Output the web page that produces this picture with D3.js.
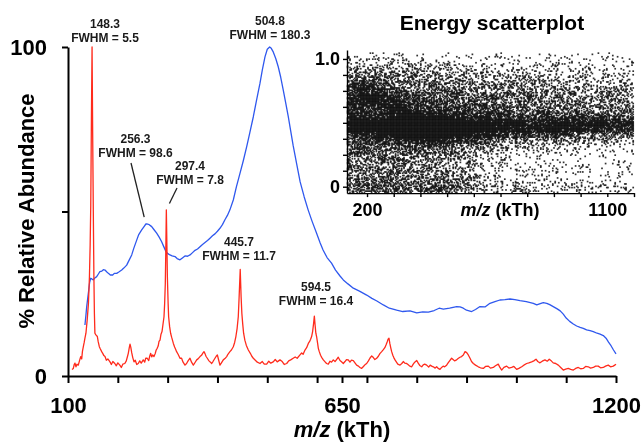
<!DOCTYPE html>
<html>
<head>
<meta charset="utf-8">
<script src="https://cdn.jsdelivr.net/npm/d3@7"></script>
<style>
  html, body { margin: 0; padding: 0; background: #fff; }
  #wrap { position: relative; width: 644px; height: 444px; overflow: hidden; }
  #wrap canvas, #wrap svg { position: absolute; left: 0; top: 0; }
  text { font-family: "Liberation Sans", Arial, Helvetica, sans-serif; font-weight: bold; }
</style>
</head>
<body>
<div id="wrap"></div>
<script>
// ---- Mass spectrum: [m/z (kTh), % relative abundance] ----
const spectrumRed = [
  [108,2.0],[110.7,2.3],[112.5,3.5],[114,3.9],[116,2.8],[118,3.6],[120.7,3.3],[123,4.6],[125.5,5.9],[127.5,5.2],
  [129,7.5],[130.8,8.9],[132.5,10.2],[134,11.5],[136,13],[138.5,17],[141,22],[143,30],[144.5,40],[145.7,52],
  [147,78],[148.3,100],[149.5,74],[150.8,50],[152,30],[153,19],[154,13],[156,12.5],[158.9,12],[160.5,10.5],
  [162.9,8.9],[165,8.2],[167.6,7.4],[170,6.8],[172,6.2],[174.3,5.9],[177,4.8],[180,5.2],[184.3,4.3],[187,3.5],
  [190,4.4],[194,3.8],[197,3.1],[200,4.0],[204,3.3],[207,2.6],[210,3.6],[214,3.8],[217,4.6],[219.5,6.0],
  [221,6.9],[223,8.6],[224.5,9.7],[226,8.8],[228,7],[230,5.6],[232.5,4.3],[235,4.8],[238,3.5],[241,3.8],
  [244,4.6],[247,3.9],[251,4.9],[254,4.2],[256,5.4],[259,5.4],[262,4.7],[264,6.0],[266,6.9],[268,5.8],
  [270,6.4],[272.6,5.9],[275,6.8],[277,7.9],[279,8.4],[281,9.1],[282.7,10.5],[284.7,10.9],[286.5,12.6],[288.7,13.5],
  [290.5,15.5],[292.7,18],[294,22],[295.3,28],[296.3,38],[297.4,50.5],[298.5,40],[299.5,30],[301,22],[302,18],
  [304,15],[306,13],[308,11.8],[311.5,9.9],[314,8.8],[316,8.1],[318,7.4],[321,6.6],[324.8,5.4],[328,5.4],
  [331,4.2],[334.8,3.3],[338,3.8],[341,4.6],[344.9,5.4],[348,4.2],[351.6,3.3],[355,4.1],[358.3,4.9],[361,5.2],
  [365,5.9],[368,6.3],[371,7.0],[373,7.4],[375,6.8],[377,6.0],[379.6,5.4],[383,4.6],[386,4.2],[388.4,3.8],
  [391,4.4],[395,5.4],[397.5,6.0],[399.8,6.4],[402,5.1],[405,3.3],[408,4.0],[411.7,4.9],[415,5.3],[418.5,5.9],
  [421,6.6],[425,7.4],[428,7.9],[431.8,8.9],[434.5,10.2],[437,12],[439.5,14.5],[441.8,18],[443.5,24],[445.7,32.4],
  [447.5,24],[449,19],[450.6,16],[452.5,13],[455,10.9],[458,9.3],[462,7.9],[466,6.9],[469,6.0],[472,5.4],
  [476,4.8],[480,4.2],[485.4,3.8],[490,4.4],[494,3.6],[498.8,3.6],[503,4.5],[507,3.9],[512,4.3],[516,5.0],
  [520,4.3],[525.5,4.9],[530,4.4],[534,3.5],[539,3.8],[543,4.6],[547,4.9],[552,5.4],[556,5.8],[560,5.4],
  [565.7,6.4],[569,7.0],[572,6.6],[575.7,7.9],[579,8.6],[582.4,9.9],[585,10.5],[587,11.2],[589,12],[591,13.5],
  [593,16],[594.5,18.2],[596,15.5],[597.5,13],[599,12],[601,10],[602.5,8.4],[604.4,7.4],[607,6.3],[609.5,5.6],
  [612.5,4.9],[616,4.3],[619,3.8],[622.5,3.6],[626,4.5],[629,4.2],[632.5,4.9],[636,4.4],[639,5.0],[642.5,5.7],
  [646,4.7],[649,4.3],[652.6,3.8],[656,4.4],[659,5.0],[662.6,4.9],[666,4.2],[669,4.8],[672.7,4.7],[676,4.0],
  [679.4,3.3],[683,3.0],[686,2.6],[689.5,2.3],[693,2.9],[696,3.4],[699.5,3.8],[703,4.6],[706,5.4],[709.6,6.1],
  [713,5.6],[716,5.0],[719.6,5.4],[723,6.0],[726,6.8],[729.7,7.4],[733,8.0],[736,8.6],[738.3,9.4],[741,10.5],
  [742.5,11.2],[744.3,11.5],[746,9.9],[748,8.5],[749.7,7.4],[752,6.3],[754,5.6],[756.4,4.9],[759,4.3],[762,3.6],
  [766.4,3.3],[770,3.8],[773,4.4],[776,3.9],[779.8,3.8],[783,3.4],[786,3.0],[789.9,2.8],[793,3.6],[796,4.2],
  [800,4.7],[803,3.9],[806,3.2],[810,2.8],[813,3.4],[816,3.6],[820,3.3],[824,2.7],[827,3.3],[830,3.0],
  [833.3,2.8],[837,2.4],[840,2.8],[843,2.3],[846.7,2.0],[850,2.6],[853,3.0],[856,2.8],[860,3.3],[863,4.0],
  [866,4.6],[870,5.4],[873,5.0],[876,4.6],[880,4.9],[883,5.3],[886.8,5.7],[890,5.9],[893.5,6.4],[897,7.4],
  [900.3,7.1],[903.5,6.4],[907,5.4],[910,4.4],[913.6,3.8],[918,3.3],[923.6,2.8],[928,2.5],[933.6,2.3],[938,2.9],
  [943.7,3.0],[948,2.4],[953.7,2.6],[958,3.1],[963.7,3.6],[967,2.6],[970.5,1.8],[975,2.6],[980.5,3.0],[985,2.4],
  [990.6,2.6],[995,2.9],[1000.6,2.0],[1005,2.3],[1010.7,2.8],[1015,3.3],[1020.7,3.8],[1025,4.0],[1030.7,4.3],[1035,4.6],
  [1039.4,5.1],[1043,4.4],[1047.4,4.0],[1052,4.5],[1057.4,4.9],[1062,4.5],[1066,5.1],[1070,4.6],[1074,4.0],[1079,3.8],
  [1084.2,3.3],[1089,2.6],[1094.2,1.8],[1099,2.1],[1104.2,2.3],[1109,2.0],[1114.3,1.8],[1119,2.3],[1124.3,2.6],[1129,2.2],
  [1134.3,2.3],[1139,2.9],[1144.3,2.8],[1149,2.4],[1154.4,2.6],[1159,3.0],[1164.4,3.0],[1169,2.5],[1174.5,2.6],[1179,3.0],
  [1184.5,3.3],[1189,2.8],[1194.5,3.0],[1200,3.6]
];

const spectrumBlue = [
  [134,15.5],[136,18.5],[137.5,21],[139.5,23.5],[141.5,26],[143.5,28.5],[145.5,29.7],[148,29.5],[150.8,29.2],[154,29.8],
  [157.6,30.2],[161,31],[164,31.7],[168,31.9],[171,32.3],[174.3,32.2],[177.5,31.7],[181,31.2],[185,30.7],[189.7,30.7],
  [193,31.2],[197.7,31.2],[202,31.6],[207.8,32.2],[212,32.8],[217.8,33.7],[222,35],[227.9,36.8],[232,38.8],[237.9,41.3],
  [242,43],[247.9,44.4],[253,45.5],[256.3,46.2],[259.2,46.2],[263,46],[268,45.4],[272,44.6],[278,43.4],[283,42.2],
  [288,40.8],[292,39.4],[296.7,37.8],[300.5,37.2],[304.7,36.8],[309,36.5],[314.8,36.3],[319,35.7],[324.8,35.3],[329,35.8],
  [334.8,36.5],[340,36.4],[344.9,36.8],[350,37.5],[355,38.2],[360,38.6],[365,39.3],[370,40],[375,40.6],[380,41.2],
  [385,41.9],[390,42.6],[395,43.2],[400,44],[405,44.9],[410,46],[415,47.5],[420,48.8],[425,50.5],[431.8,53.5],
  [438,57.5],[445.2,61.6],[452,65.5],[458.7,69.7],[465,74],[472,78.8],[478,83.5],[485.4,89],[490,93],[495.4,97],
  [500,99.3],[504.8,100],[508,99.6],[512,98.5],[517,96.5],[522,94],[527,90.8],[532,87],[537,83],[542,79],
  [547,74.5],[552,70],[559,64.5],[566,59],[574,54.5],[582,50.5],[590,47],[599,43.4],[606,40.5],[612,38.3],
  [620,36],[629,34.3],[637,32.2],[646,30.4],[652.6,29.2],[662,28],[672.7,26.7],[685,25.8],[699.5,24.6],[710,23.6],
  [720,22.8],[733,21.6],[745,20.6],[759.8,20],[772,19.6],[786.5,19.8],[800,19.2],[812,19.5],[823.3,19.4],[835,19.9],
  [845,20.6],[853.4,20.3],[866,20.6],[880.2,21.1],[887,21],[893.5,20.6],[900,20],[910.3,19.6],[918,20.2],[927,21.1],
  [937,21],[947,22.1],[957,22.6],[967,23.1],[977,23.2],[987.2,23.4],[997,23.2],[1007.3,22.9],[1020,22.6],[1034,22.1],
  [1041,21.6],[1048,22],[1054,22.3],[1061,22.1],[1067,21.7],[1074,21.1],[1082,20.4],[1088,19.8],[1094.2,18.8],[1100,17.6],
  [1107,16.6],[1114.3,15.8],[1121,15.2],[1128,14.8],[1134.3,14.5],[1141,14],[1148,13.8],[1154.4,13.5],[1162,13],[1168,12.7],
  [1174.5,12.3],[1180,11.5],[1185,10.3],[1190,9.2],[1195,7.9],[1200,6.7]
];

// Peak annotations: [label line 1, label line 2, anchor m/z, anchor %]
const peakLabels = [
  ["148.3", "FWHM = 5.5", 148.3, 100],
  ["504.8", "FWHM = 180.3", 504.8, 100],
  ["256.3", "FWHM = 98.6", 256.3, 46.2],
  ["297.4", "FWHM = 7.8", 297.4, 50.5],
  ["445.7", "FWHM = 11.7", 445.7, 32.4],
  ["594.5", "FWHM = 16.4", 594.5, 18.2]
];

const mainXTicks = [100,200,300,400,500,600,650,700,800,900,1000,1100,1200];
const mainXLabels = [100, 650, 1200];
const mainYTicks = [0, 50, 100];
const mainYLabels = [0, 100];

// ---- Energy scatterplot: point density on an m/z x energy grid ----
const energyMz = [125,200,275,350,425,500,575,650,725,800,875,950,1025,1100,1200];
const energyLevels = [1.05,1.00,0.95,0.90,0.85,0.80,0.75,0.70,0.65,0.60,0.55,0.50,0.45,0.40,0.35,0.30,0.25,0.20,0.15,0.10,0.05,0.00,-0.05];
const energyDensity = [
  [.02,.03,.03,.03,.03,.03,.02,.02,.02,.02,.02,.02,.02,.02,.02],
  [.08,.10,.10,.10,.08,.08,.07,.06,.05,.05,.05,.05,.05,.05,.05],
  [.15,.20,.18,.18,.15,.14,.12,.10,.09,.08,.08,.07,.07,.07,.06],
  [.25,.30,.28,.26,.22,.20,.18,.15,.14,.13,.12,.11,.10,.10,.09],
  [.35,.40,.38,.35,.30,.28,.25,.22,.20,.18,.17,.16,.15,.14,.12],
  [.45,.55,.50,.45,.38,.35,.32,.28,.26,.24,.22,.20,.19,.18,.16],
  [.55,.80,.60,.50,.45,.42,.38,.34,.32,.30,.28,.25,.23,.22,.20],
  [.65,.90,.80,.55,.50,.45,.42,.40,.38,.36,.33,.30,.28,.26,.24],
  [.65,.85,.85,.70,.55,.50,.48,.45,.42,.40,.38,.35,.33,.30,.28],
  [.60,.60,.70,.85,.65,.60,.55,.52,.48,.45,.42,.40,.38,.36,.33],
  [.75,.70,.75,.90,.85,.80,.70,.65,.60,.55,.55,.55,.55,.50,.45],
  [.85,.90,.90,.95,1.0,1.0,.95,.85,.80,.75,.80,.85,.85,.80,.70],
  [.85,.90,.90,.95,1.0,1.0,.95,.90,.85,.80,.85,.85,.80,.75,.65],
  [.70,.75,.80,.90,1.0,.95,.80,.70,.60,.55,.55,.50,.45,.40,.35],
  [.55,.55,.55,.65,.80,.70,.50,.40,.30,.25,.22,.20,.18,.16,.15],
  [.45,.45,.42,.45,.50,.45,.30,.22,.16,.12,.10,.09,.08,.08,.08],
  [.40,.40,.38,.38,.38,.35,.22,.15,.10,.08,.07,.06,.06,.06,.06],
  [.35,.35,.35,.35,.32,.30,.20,.12,.08,.07,.06,.05,.05,.05,.05],
  [.35,.35,.35,.33,.30,.30,.20,.12,.08,.07,.06,.05,.05,.05,.05],
  [.35,.35,.35,.33,.30,.30,.20,.12,.08,.07,.06,.05,.05,.05,.05],
  [.40,.40,.40,.38,.35,.35,.25,.15,.10,.08,.08,.07,.06,.06,.06],
  [.50,.50,.50,.50,.50,.50,.35,.25,.20,.18,.16,.15,.14,.13,.12],
  [.30,.30,.30,.30,.30,.30,.22,.15,.12,.10,.10,.08,.08,.07,.07]
];
const insetXTicks = [200,300,400,500,600,700,800,900,1000,1100,1200];
const insetXLabels = [200, 1100];
const insetYTicks = [0,0.125,0.25,0.375,0.5,0.625,0.75,0.875,1.0];
const insetYLabels = [0, 1.0];

// ---- Layout ----
const W = 644, H = 444;
const FONT = '"Liberation Sans", Arial, Helvetica, sans-serif';
const RED = "#ff2b1c", BLUE = "#2f58ee";

const wrap = d3.select("#wrap");
const canvas = wrap.append("canvas").attr("width", W).attr("height", H).node();
const svg = wrap.append("svg").attr("width", W).attr("height", H);

// Main spectrum scales
const x = d3.scaleLinear().domain([100, 1200]).range([68, 616]);
const y = d3.scaleLinear().domain([0, 100]).range([376, 47]);

// Inset scales
const ix = d3.scaleLinear().domain([125, 1200]).range([347, 634]);
const iy = d3.scaleLinear().domain([-0.05, 1.07]).range([193.1, 50]);

// ---- Inset stipple (canvas beneath the SVG) ----
// Bilinear lookup into the density grid
function densityAt(mz, e) {
  let c = d3.bisectRight(energyMz, mz) - 1;
  c = Math.max(0, Math.min(energyMz.length - 2, c));
  const tc = Math.max(0, Math.min(1, (mz - energyMz[c]) / (energyMz[c + 1] - energyMz[c])));
  let r = 0;
  while (r < energyLevels.length - 2 && energyLevels[r + 1] > e) r++;
  const tr = Math.max(0, Math.min(1, (energyLevels[r] - e) / (energyLevels[r] - energyLevels[r + 1])));
  const a = energyDensity[r][c], b = energyDensity[r][c + 1];
  const d = energyDensity[r + 1][c], g = energyDensity[r + 1][c + 1];
  const top = a + (b - a) * tc, bot = d + (g - d) * tc;
  return top + (bot - top) * tr;
}
// Hashed threshold map for dithering the density field into dots
function grain(i, j) {
  let h = Math.imul(i, 374761393) + Math.imul(j, 668265263) | 0;
  h = Math.imul(h ^ (h >>> 13), 1274126177);
  h ^= h >>> 16;
  return (h >>> 0) / 4294967296;
}
const cell = 1.2, dot = 1.7, gain = 1.15;
const [px0, px1] = ix.range();
const py0 = iy(1.05), py1 = iy.range()[0];
const gw = Math.floor((px1 - px0) / cell), gh = Math.floor((py1 - py0) / cell);
const ctx = canvas.getContext("2d");
ctx.fillStyle = "rgba(0,0,0,0.8)";
for (let j = 0; j < gh; j++) {
  for (let i = 0; i < gw; i++) {
    const cx = px0 + (i + 0.5) * cell, cy = py0 + (j + 0.5) * cell;
    const d = densityAt(ix.invert(cx), iy.invert(cy)) * gain;
    if (grain(i + 1, j + 1) < d) ctx.fillRect(cx - dot / 2, cy - dot / 2, dot, dot);
  }
}

// ---- Main spectrum lines ----
const line = d3.line().x(d => x(d[0])).y(d => y(d[1]));
svg.append("path").datum(spectrumBlue)
  .attr("fill", "none").attr("stroke", BLUE).attr("stroke-width", 1.3)
  .attr("stroke-linejoin", "round").attr("d", line);
svg.append("path").datum(spectrumRed)
  .attr("fill", "none").attr("stroke", RED).attr("stroke-width", 1.3)
  .attr("stroke-linejoin", "round").attr("d", line);

// ---- Main axes ----
function styleAxis(g, width, size) {
  g.attr("font-family", FONT).attr("font-size", size).attr("font-weight", "bold");
  g.select(".domain").attr("stroke", "#000").attr("stroke-width", width);
  g.selectAll(".tick line").attr("stroke", "#000").attr("stroke-width", width);
  g.selectAll(".tick text").attr("fill", "#000");
}
svg.append("g").attr("transform", `translate(0,${y(0)})`)
  .call(d3.axisBottom(x).tickValues(mainXTicks).tickSize(7).tickSizeOuter(0).tickPadding(14)
    .tickFormat(d => mainXLabels.includes(d) ? String(d) : ""))
  .call(g => styleAxis(g, 2, 22));
svg.append("g").attr("transform", `translate(${x(100)},0)`)
  .call(d3.axisLeft(y).tickValues(mainYTicks).tickSize(6).tickSizeOuter(0).tickPadding(15)
    .tickFormat(d => mainYLabels.includes(d) ? String(d) : ""))
  .call(g => styleAxis(g, 2, 22));

// Axis titles
const xTitle = svg.append("text").attr("x", 342).attr("y", 437)
  .attr("text-anchor", "middle").attr("font-size", 22).attr("fill", "#000");
xTitle.append("tspan").attr("font-style", "italic").text("m/z");
xTitle.append("tspan").text(" (kTh)");
svg.append("text").attr("transform", "translate(34,211) rotate(-90)")
  .attr("text-anchor", "middle").attr("font-size", 22).attr("fill", "#000")
  .text("% Relative Abundance");

// ---- Peak annotations ----
const labelPos = {
  "148.3": [105, 28], "504.8": [270, 25], "256.3": [135.5, 143],
  "297.4": [190, 170], "445.7": [239, 246], "594.5": [316, 291]
};
peakLabels.forEach(([l1, l2]) => {
  const [cx, by] = labelPos[l1];
  const t = svg.append("text").attr("text-anchor", "middle").attr("font-size", 12).attr("fill", "#1a1a1a");
  t.append("tspan").attr("x", cx).attr("y", by).text(l1);
  t.append("tspan").attr("x", cx).attr("y", by + 14).text(l2);
});
// Leader lines to the two crowded peaks
const leaders = [
  [[131, 163], [256.3, 46.2]],
  [[177, 188], [297.4, 50.5]]
];
leaders.forEach(([from, [mz, pct]]) => {
  const tx = x(mz), ty = y(pct);
  const dx = tx - from[0], dy = ty - from[1], len = Math.hypot(dx, dy);
  const stop = 7 / len; // leave a small gap before the trace
  svg.append("line").attr("x1", from[0]).attr("y1", from[1])
    .attr("x2", tx - dx * stop).attr("y2", ty - dy * stop)
    .attr("stroke", "#222").attr("stroke-width", 1.3);
});

// ---- Inset axes ----
svg.append("g").attr("transform", `translate(0,${iy.range()[0]})`)
  .call(d3.axisBottom(ix).tickValues(insetXTicks).tickSize(4).tickSizeOuter(0).tickPadding(6)
    .tickFormat(d => insetXLabels.includes(d) ? String(d) : ""))
  .call(g => styleAxis(g, 1.4, 18));
svg.append("g").attr("transform", `translate(${ix.range()[0]},0)`)
  .call(d3.axisLeft(iy).tickValues(insetYTicks).tickSize(4).tickSizeOuter(0).tickPadding(3)
    .tickFormat(d => insetYLabels.includes(d) ? (d === 0 ? "0" : d.toFixed(1)) : ""))
  .call(g => styleAxis(g, 1.4, 18));
const ixTitle = svg.append("text").attr("x", 500).attr("y", 216)
  .attr("text-anchor", "middle").attr("font-size", 18).attr("fill", "#000");
ixTitle.append("tspan").attr("font-style", "italic").text("m/z");
ixTitle.append("tspan").text(" (kTh)");
svg.append("text").attr("x", 492).attr("y", 30).attr("text-anchor", "middle")
  .attr("font-size", 21).attr("fill", "#000").text("Energy scatterplot");
</script>
</body>
</html>
